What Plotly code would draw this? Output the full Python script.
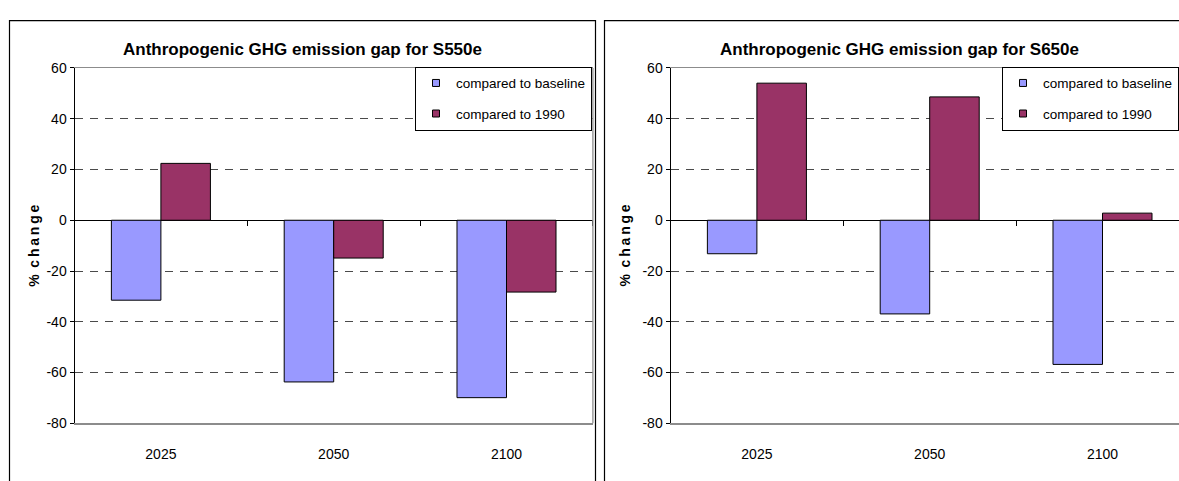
import plotly.graph_objects as go

# ---------------- data ----------------
categories = ["2025", "2050", "2100"]
series_names = ["compared to baseline", "compared to 1990"]
s550_baseline = [-31.5, -63.7, -69.9]
s550_1990 = [22.4, -14.9, -28.3]
s650_baseline = [-13.2, -36.9, -56.8]
s650_1990 = [54.0, 48.6, 2.8]
y_ticks = [-80, -60, -40, -20, 0, 20, 40, 60]
y_tick_labels = [str(v) for v in y_ticks]
titles = ["Anthropogenic GHG emission gap for S550e",
          "Anthropogenic GHG emission gap for S650e"]
y_title = "%\u2009 c\u2009h\u2009a\u2009n\u2009g\u2009e"

# ---------------- style ----------------
W, H = 1179, 481
FONT = "Liberation Sans, Arial, sans-serif"
BLUE = "#9999FF"
RED = "#993366"
colors = [BLUE, RED]


def px(x):
    return x / W


def py(y):
    return 1 - y / H


ymin, ymax = y_ticks[0], y_ticks[-1]
ydom = [py(429.6), py(62)]
cat_w = 172.8
left_dom = [px(74.5), px(74.5 + 3 * cat_w)]
right_x0 = 670.5
right_dom = [px(right_x0), 1.0]
right_range = [-0.5, -0.5 + (W - right_x0) / cat_w]
zero_pos = ydom[0] + (0 - ymin) / (ymax - ymin) * (ydom[1] - ydom[0])

fig = go.Figure()

panels = [
    dict(x="x", y="y", xt="x3", data=[s550_baseline, s550_1990], legend="legend"),
    dict(x="x2", y="y2", xt="x4", data=[s650_baseline, s650_1990], legend="legend2"),
]

for p in panels:
    for name, vals, col in zip(series_names, p["data"], colors):
        fig.add_trace(go.Bar(
            x=categories, y=vals, name=name, xaxis=p["x"], yaxis=p["y"],
            marker=dict(color=col, line=dict(color="black", width=1)),
            showlegend=False, hoverinfo="skip"))
    # invisible trace that carries the tick axis on the zero line
    fig.add_trace(go.Scatter(
        x=categories, y=[0] * len(categories), xaxis=p["xt"], yaxis=p["y"],
        mode="markers", marker=dict(opacity=0), showlegend=False,
        hoverinfo="skip"))
    # legend entries
    for i, (name, col) in enumerate(zip(series_names, colors)):
        fig.add_trace(go.Scatter(
            x=[None], y=[None], xaxis=p["x"], yaxis=p["y"], name=name,
            mode="markers", legend=p["legend"], legendgroup=p["legend"] + str(i),
            marker=dict(symbol="square", size=7, color=col,
                        line=dict(color="black", width=1))))

grid_col = "#4a4a4a"
axis_common_y = dict(
    range=[ymin, ymax], tickvals=y_ticks, ticktext=y_tick_labels,
    ticks="outside", ticklen=4,
    tickcolor="black", tickfont=dict(family=FONT, size=14, color="black"),
    showline=True, linecolor="black", linewidth=1,
    showgrid=True, gridcolor=grid_col, gridwidth=1, griddash="8px,7px",
    zeroline=True, zerolinecolor="black", zerolinewidth=1,
    domain=ydom, fixedrange=True)

axis_common_x = dict(
    type="category", categoryorder="array", categoryarray=categories,
    ticks="", showgrid=False, showline=True, linecolor="#8c8c8c",
    linewidth=1.3, mirror=True, ticklabelstandoff=18,
    tickfont=dict(family=FONT, size=14, color="black"), fixedrange=True)

tick_axis = dict(
    type="category", categoryorder="array", categoryarray=categories,
    anchor="free", position=zero_pos, tickson="boundaries",
    ticks="outside", ticklen=5, tickcolor="black", showticklabels=False,
    showgrid=False, showline=False, zeroline=False, fixedrange=True)

legend_common = dict(
    yanchor="top", y=py(60.7), bgcolor="white", bordercolor="black",
    borderwidth=1, font=dict(family=FONT, size=13.5, color="black"),
    tracegroupgap=10, itemwidth=30)

fig.update_layout(
    width=W, height=H, margin=dict(l=0, r=0, t=0, b=0),
    paper_bgcolor="white", plot_bgcolor="white",
    bargap=0.427, bargroupgap=0, barmode="group",
    font=dict(family=FONT, color="black"),
    xaxis=dict(axis_common_x, domain=left_dom, range=[-0.5, 2.5], anchor="y"),
    yaxis=dict(axis_common_y, anchor="x"),
    xaxis2=dict(axis_common_x, domain=right_dom, range=right_range, anchor="y2"),
    yaxis2=dict(axis_common_y, anchor="x2"),
    xaxis3=dict(tick_axis, overlaying="x", range=[-0.5, 2.5], domain=left_dom),
    xaxis4=dict(tick_axis, overlaying="x2", range=right_range, domain=right_dom),
    legend=dict(legend_common, x=px(592), xanchor="right"),
    legend2=dict(legend_common, x=1.0, xanchor="right"),
)

# outer chart frames and right plot-area border of the left chart
fig.add_shape(type="rect", xref="paper", yref="paper",
              x0=px(9.5), x1=px(595.5), y0=py(13), y1=py(490),
              line=dict(color="black", width=1.2))
fig.add_shape(type="rect", xref="paper", yref="paper",
              x0=px(604.5), x1=px(1190), y0=py(13), y1=py(490),
              line=dict(color="black", width=1.2))
fig.add_shape(type="line", xref="x domain", yref="y domain",
              x0=1, x1=1, y0=0, y1=1, line=dict(color="#8c8c8c", width=1.3))

# titles
for xc, t in zip([302, 899.6], titles):
    fig.add_annotation(x=px(xc), y=py(43), xref="paper", yref="paper",
                       text="<b>" + t + "</b>", showarrow=False,
                       xanchor="center", yanchor="middle",
                       font=dict(family=FONT, size=17, color="black"))
for xc in [33.3, 625]:
    fig.add_annotation(x=px(xc), y=py(245.7), xref="paper", yref="paper",
                       text="<b>" + y_title + "</b>", showarrow=False,
                       textangle=-90, xanchor="center", yanchor="middle",
                       font=dict(family=FONT, size=14, color="black"))

fig.write_html(
    "out.html",
    config={"displayModeBar": False, "staticPlot": True},
    post_script="document.body.style.margin='0';"
                "document.documentElement.style.overflow='hidden';"
                "document.body.style.overflow='hidden';")
